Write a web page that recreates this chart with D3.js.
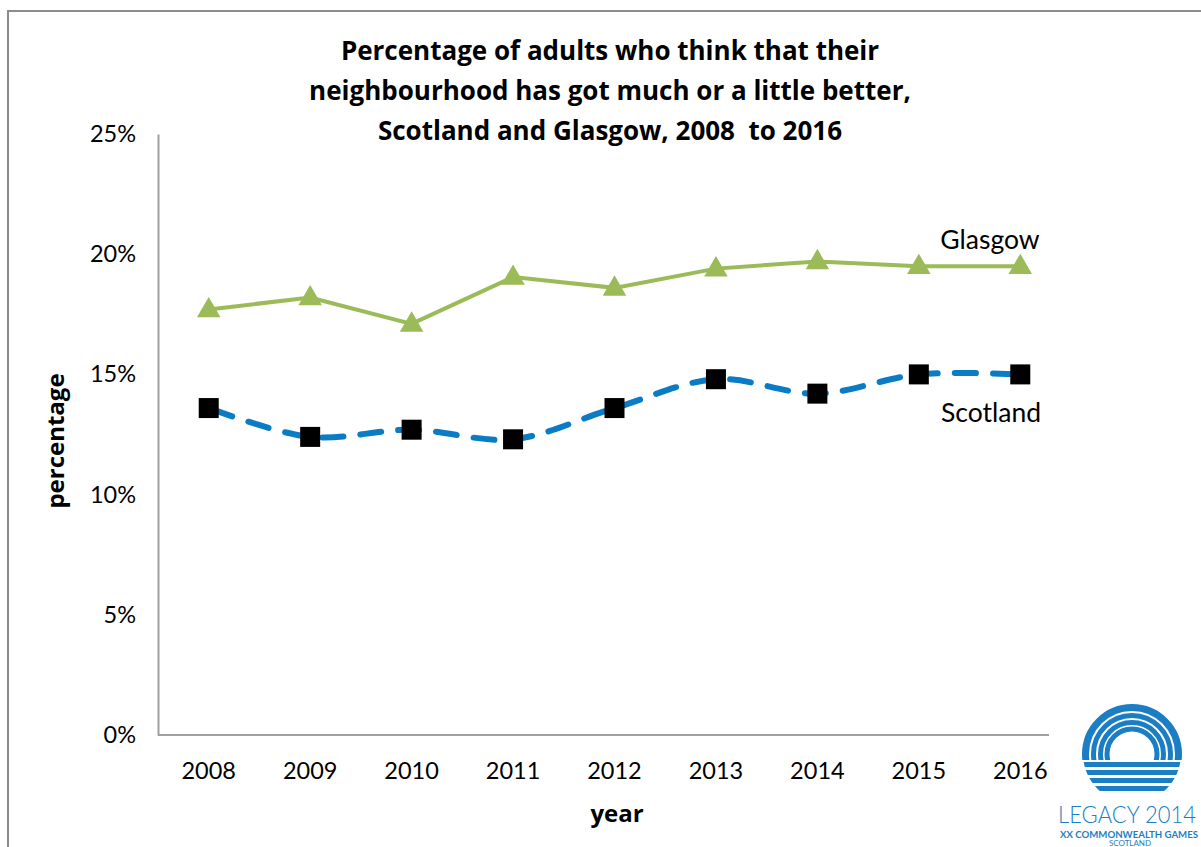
<!DOCTYPE html>
<html><head><meta charset="utf-8">
<script src="https://cdn.jsdelivr.net/npm/d3@7"></script>
<style>body{margin:0;background:#fff}svg{display:block}</style>
</head><body>
<svg id="c" width="1201" height="847"></svg>
<script>
const years = ["2008","2009","2010","2011","2012","2013","2014","2015","2016"];
const glasgow = [17.7, 18.2, 17.1, 19.05, 18.6, 19.4, 19.7, 19.5, 19.5];
const scotland = [13.6, 12.4, 12.7, 12.3, 13.6, 14.8, 14.2, 15.0, 15.0];
const yTicks = [0, 5, 10, 15, 20, 25];
const titleLines = ["Percentage of adults who think that their","neighbourhood has got much or a little better,","Scotland and Glasgow, 2008  to 2016"];

const svg = d3.select("#c");
const F = "Lato, 'Open Sans', sans-serif";
const FB = "'Open Sans', Lato, sans-serif";

// outer frame
svg.append("rect").attr("x",8).attr("y",11).attr("width",1300).attr("height",1000)
  .attr("fill","none").attr("stroke","#8c8c8c").attr("stroke-width",2);

const x = d3.scaleBand().domain(years).range([158, 1071]);
const y = d3.scaleLinear().domain([0,25]).range([735,134]);
const cx = d => x(d) + x.bandwidth()/2;

// title
svg.append("text").attr("x",610).attr("y",60).attr("text-anchor","middle")
  .attr("font-family",FB).attr("font-weight","bold").attr("font-size",26).attr("fill","#000")
  .style("white-space","pre")
  .selectAll("tspan").data(titleLines).join("tspan")
  .attr("x",610).attr("dy",(d,i)=> i===0?0:40).text(d=>d);

// y axis
const ya = svg.append("g").attr("transform","translate(158,0)")
  .call(d3.axisLeft(y).tickValues(yTicks).tickSize(0).tickPadding(22).tickFormat(d=>d+"%"));
ya.select(".domain").attr("stroke","#a0a0a0").attr("stroke-width",2);
ya.selectAll("text").attr("font-family",F).attr("font-size",23.5).attr("fill","#000");

// x axis
const xa = svg.append("g").attr("transform","translate(0,735)")
  .call(d3.axisBottom(x).tickSize(0).tickPadding(27));
xa.select(".domain").attr("stroke","#a0a0a0").attr("stroke-width",2).attr("d","M158,0H1049");
xa.selectAll("text").attr("font-family",F).attr("font-size",23.5).attr("fill","#000");

// axis titles
svg.append("text").attr("x",617).attr("y",822).attr("text-anchor","middle")
  .attr("font-family",FB).attr("font-weight","bold").attr("font-size",24).text("year");
svg.append("text").attr("transform","translate(64,441) rotate(-90)").attr("text-anchor","middle")
  .attr("font-family",FB).attr("font-weight","bold").attr("font-size",24).text("percentage");

// Glasgow line
const lineG = d3.line().x((d,i)=>cx(years[i])).y(d=>y(d));
svg.append("path").attr("d",lineG(glasgow)).attr("fill","none")
  .attr("stroke","#9BBB59").attr("stroke-width",4);
const tri = d3.symbol().type(d3.symbolTriangle).size(240);
svg.selectAll(".tri").data(glasgow).join("path")
  .attr("transform",(d,i)=>`translate(${cx(years[i])},${y(d)+1})`)
  .attr("d",tri).attr("fill","#9BBB59");

// Scotland line
const lineS = d3.line().x((d,i)=>cx(years[i])).y(d=>y(d)).curve(d3.curveCatmullRom.alpha(0.5));
svg.append("path").attr("d",lineS(scotland)).attr("fill","none")
  .attr("stroke","#0a7cc6").attr("stroke-width",6).attr("stroke-linecap","round")
  .attr("stroke-dasharray","21,17").attr("stroke-dashoffset",-4);
svg.selectAll(".sq").data(scotland).join("rect")
  .attr("x",(d,i)=>cx(years[i])-10).attr("y",d=>y(d)-10)
  .attr("width",20).attr("height",20).attr("fill","#000");

// series labels
svg.append("text").attr("x",990).attr("y",249).attr("text-anchor","middle")
  .attr("font-family",F).attr("font-size",26.5).text("Glasgow");
svg.append("text").attr("x",991).attr("y",422).attr("text-anchor","middle")
  .attr("font-family",F).attr("font-size",26.5).text("Scotland");

// logo
const logo = svg.append("g");
const lc = {x:1132, y:754};
logo.append("rect").attr("x",1050).attr("y",690).attr("width",160).attr("height",160).attr("fill","#fff");
const blue = "#1b7ec4";
svg.append("defs").html(`<clipPath id="top"><rect x="1070" y="690" width="130" height="70"/></clipPath>
<clipPath id="circ"><circle cx="${lc.x}" cy="${lc.y}" r="49"/></clipPath>`);
const rings = [46.5, 38.5, 31.5, 25];
logo.append("g").attr("clip-path","url(#top)").selectAll("circle").data(rings).join("circle")
  .attr("cx",lc.x).attr("cy",lc.y).attr("r",d=>d).attr("fill","none").attr("stroke",blue)
  .attr("stroke-width",(d,i)=> i===0?7:5);
const stripes = [762, 770, 778, 786];
logo.append("g").attr("clip-path","url(#circ)").selectAll("rect").data(stripes).join("rect")
  .attr("x",1080).attr("y",d=>d).attr("width",110).attr("height",5).attr("fill",blue);
logo.append("text").attr("x",1058).attr("y",823).attr("font-family",F).attr("font-size",23)
  .attr("font-weight",300).attr("fill",blue).attr("textLength",138).attr("lengthAdjust","spacingAndGlyphs").text("LEGACY 2014");
logo.append("text").attr("x",1060).attr("y",838).attr("font-family",F).attr("font-size",9.5)
  .attr("font-weight","bold").attr("fill",blue).attr("textLength",138).attr("lengthAdjust","spacingAndGlyphs").text("XX COMMONWEALTH GAMES");
logo.append("text").attr("x",1130).attr("y",846).attr("text-anchor","middle").attr("font-family",F).attr("font-size",8)
  .attr("fill",blue).text("SCOTLAND");
</script>
</body></html>
